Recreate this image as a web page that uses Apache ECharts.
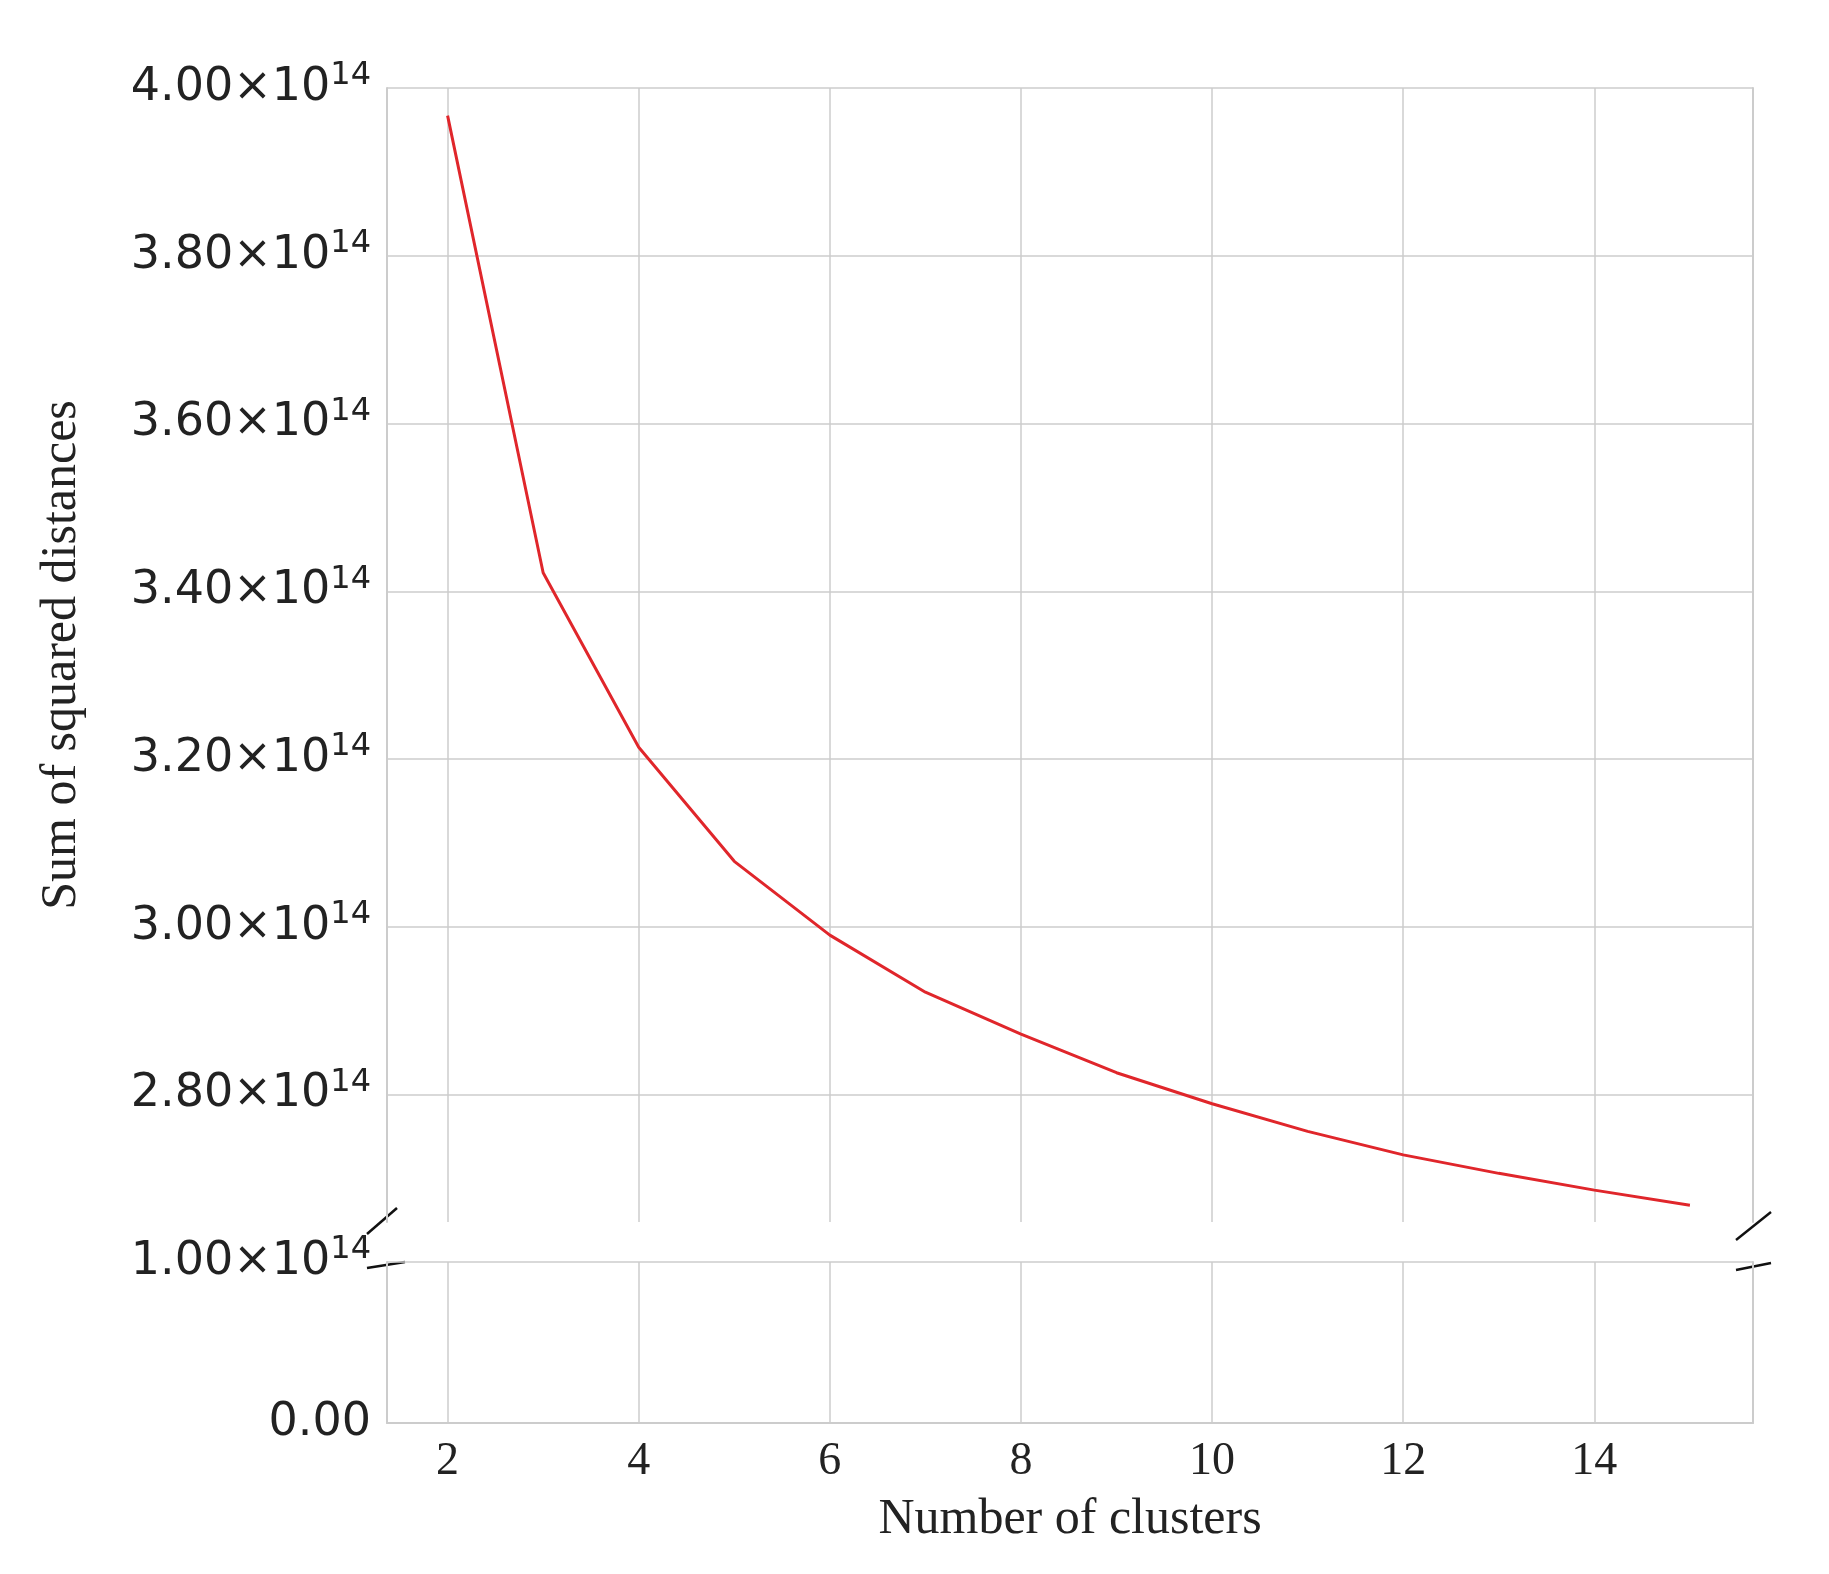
<!DOCTYPE html>
<html>
<head>
<meta charset="utf-8">
<script src="https://cdn.jsdelivr.net/npm/echarts@6/dist/echarts.min.js"></script>
<style>html,body{margin:0;background:#fff}#chart{width:1829px;height:1574px}</style>
</head>
<body>
<div id="chart"></div>
<script>
var clusters = [2, 3, 4, 5, 6, 7, 8, 9, 10, 11, 12, 13, 14, 15];
var ssd = [3.967, 3.422, 3.214, 3.078, 2.990, 2.922, 2.872, 2.826, 2.789, 2.756, 2.728, 2.706, 2.686, 2.668];
var upperTicks = [2.8, 3.0, 3.2, 3.4, 3.6, 3.8, 4.0];
var lowerTicks = [0, 1.0];
var xTicks = [2, 4, 6, 8, 10, 12, 14];

var chart = echarts.init(document.getElementById('chart'));
var grey = '#cccccc';
var serif = '"Liberation Serif", "DejaVu Serif", serif';

function sciLabel(v) {
    if (v === 0) return '0.00';
    return '{b|' + v.toFixed(2) + '×10}{s|14}';
}
var labelRich = {
    b: {fontFamily: '"DejaVu Sans", sans-serif', fontSize: 46, color: '#222'},
    s: {fontFamily: '"DejaVu Sans", sans-serif', fontSize: 32, color: '#222', verticalAlign: 'top', padding: [0, 0, 24, 0]}
};

var data = clusters.map(function (c, i) { return [c, ssd[i] * 1e14]; });

chart.setOption({
    animation: false,
    grid: [
        {left: 387, right: 76, top: 88, height: 1134},
        {left: 387, right: 76, top: 1262, height: 161}
    ],
    xAxis: [
        {gridIndex: 0, type: 'value', min: 1.366, max: 15.66,
         axisLine: {show: false}, axisLabel: {show: false},
         splitLine: {show: true, lineStyle: {color: grey, width: 1.5}},
         axisTick: {show: false, customValues: xTicks}},
        {gridIndex: 1, type: 'value', min: 1.366, max: 15.66,
         axisLine: {show: true, lineStyle: {color: grey, width: 2}}, axisTick: {show: false, customValues: xTicks},
         axisLabel: {customValues: xTicks, fontFamily: serif, fontSize: 46, color: '#222', margin: 16},
         splitLine: {show: true, lineStyle: {color: grey, width: 1.5}},
         name: 'Number of clusters', nameLocation: 'middle', nameGap: 72,
         nameTextStyle: {fontFamily: serif, fontSize: 50, color: '#222'}}
    ],
    yAxis: [
        {gridIndex: 0, type: 'value', min: 2.648e14, max: 4.0e14,
         axisLine: {show: true, lineStyle: {color: grey, width: 2}},
         axisTick: {show: false, customValues: upperTicks.map(function (v) { return v * 1e14; })},
         axisLabel: {customValues: upperTicks.map(function (v) { return v * 1e14; }), margin: 16,
                     formatter: function (v) { return sciLabel(v / 1e14); }, rich: labelRich},
         splitLine: {show: true, lineStyle: {color: grey, width: 1.5}},
         name: 'Sum of squared distances', nameLocation: 'middle', nameGap: 300,
         nameTextStyle: {fontFamily: serif, fontSize: 50, color: '#222'}},
        {gridIndex: 0, type: 'value', position: 'right', min: 2.648e14, max: 4.0e14,
         axisLine: {show: true, lineStyle: {color: grey, width: 2}},
         axisTick: {show: false}, axisLabel: {show: false}, splitLine: {show: false}},
        {gridIndex: 1, type: 'value', min: 0, max: 1.0e14,
         axisLine: {show: true, lineStyle: {color: grey, width: 2}},
         axisTick: {show: false, customValues: lowerTicks.map(function (v) { return v * 1e14; })},
         axisLabel: {customValues: lowerTicks.map(function (v) { return v * 1e14; }), margin: 16,
                     formatter: function (v) { return v === 0 ? '{b|0.00}' : sciLabel(v / 1e14); }, rich: labelRich},
         splitLine: {show: true, lineStyle: {color: grey, width: 1.5}}},
        {gridIndex: 1, type: 'value', position: 'right', min: 0, max: 1.0e14,
         axisLine: {show: true, lineStyle: {color: grey, width: 2}},
         axisTick: {show: false}, axisLabel: {show: false}, splitLine: {show: false}}
    ],
    series: [{
        type: 'line', xAxisIndex: 0, yAxisIndex: 0, data: data,
        showSymbol: false, lineStyle: {color: '#e0262b', width: 3}
    }],
    graphic: [
        {type: 'line', shape: {x1: 367, y1: 1234, x2: 397, y2: 1208}, style: {stroke: '#111', lineWidth: 2.5}},
        {type: 'line', shape: {x1: 367, y1: 1268, x2: 405, y2: 1262}, style: {stroke: '#111', lineWidth: 2.5}},
        {type: 'line', shape: {x1: 1736, y1: 1240, x2: 1771, y2: 1212}, style: {stroke: '#111', lineWidth: 2.5}},
        {type: 'line', shape: {x1: 1736, y1: 1270, x2: 1771, y2: 1263}, style: {stroke: '#111', lineWidth: 2.5}}
    ]
});
</script>
</body>
</html>
